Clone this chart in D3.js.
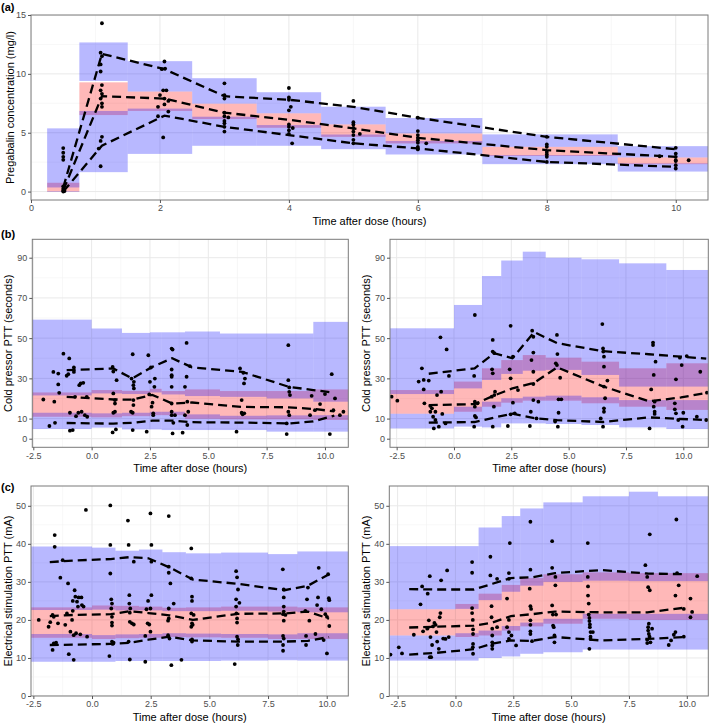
<!DOCTYPE html>
<html><head><meta charset="utf-8">
<script src="https://cdn.jsdelivr.net/npm/d3@7"></script>
<style>body{margin:0;background:#fff}svg{display:block}text{font-family:"Liberation Sans",Arial,Helvetica,sans-serif}</style>
</head><body><svg id="c" width="709" height="724"></svg>
<script>
// ---------- DATA ----------
// bands: [x0, x1, lo5Low, lo5High, medLow, medHigh, hi95Low, hi95High]
const a_bands = [
 [0.25,0.75, 0,0.05, 0,0.75, 0.35,5.37],
 [0.75,1.5, 1.65,6.85, 6.5,9.28, 9.4,12.67],
 [1.5,2.5, 3.2,7.05, 6.85,8.5, 8.5,11.08],
 [2.5,3.5, 3.89,6.36, 6.16,7.47, 7.47,9.63],
 [3.5,4.5, 3.89,5.65, 5.42,6.65, 6.65,8.44],
 [4.5,5.5, 3.6,4.85, 4.65,5.71, 5.71,7.21],
 [5.5,7.0, 3.15,4.3, 4.09,4.94, 4.94,6.25],
 [7.0,9.1, 2.33,3.1, 3.03,3.8, 3.8,4.86],
 [9.1,10.5, 1.7,2.4, 2.33,2.9, 2.9,3.86]
];
// observed percentiles: [x, p5, p50, p95]
const a_obs = [
 [0.5,0.0,0.1,0.35],[1.1,3.9,8.1,11.7],[2.07,6.45,7.9,10.4],[3.0,5.5,6.7,8.1],
 [4.0,4.8,6.1,7.8],[5.0,4.1,5.37,7.2],[6.0,3.67,4.57,6.27],[8.0,2.52,3.52,4.65],[10.0,2.1,2.95,3.6]
];
const a_pts = [
 [0.5,3.7],[0.5,3.3],[0.5,2.95],[0.5,2.7],[0.5,0.45],[0.5,0.25],[0.5,0.1],[0.5,0.0],[0.52,0.05],
 [1.1,14.3],[1.08,11.8],[1.1,11.5],[1.08,10.8],[1.08,10.2],[1.1,9.05],[1.08,8.6],[1.1,8.3],[1.08,7.9],[1.1,7.5],[1.1,7.2],[1.1,4.65],[1.08,4.3],[1.05,3.65],[1.08,2.15],
 [2.07,11.05],[2.03,10.4],[2.08,10.45],[2.05,8.6],[2.1,8.6],[2.0,8.2],[2.07,7.9],[2.13,7.7],[2.07,7.4],[1.97,7.2],[2.13,6.8],[1.97,6.4],[2.05,4.6],
 [3.0,9.2],[3.0,8.2],[3.0,7.9],[3.0,6.7],[3.0,6.4],[3.06,6.3],[3.0,6.0],[3.0,5.8],[3.0,5.5],[3.0,5.1],
 [4.0,8.8],[4.0,8.0],[4.0,7.8],[4.03,7.2],[4.0,6.9],[4.0,5.7],[4.0,5.5],[4.06,5.4],[4.0,5.2],[4.0,4.9],[4.05,4.1],
 [5.0,7.7],[5.0,5.9],[5.0,5.7],[5.0,5.4],[5.0,5.1],[5.1,4.9],[5.0,4.8],[5.0,4.4],[5.0,4.1],
 [6.0,6.27],[6.0,5.14],[6.0,4.8],[6.0,4.57],[6.0,4.37],[6.0,4.15],[6.13,4.1],[6.0,3.8],[6.0,3.58],
 [8.0,4.65],[8.0,4.0],[8.0,3.8],[8.0,3.37],[8.0,3.15],[8.0,2.95],[8.0,2.52],
 [10.0,3.72],[10.0,3.23],[10.0,2.95],[10.0,2.66],[10.0,2.6],[10.0,2.24],[10.0,1.96],[10.2,2.66],[9.75,3.0]
];

const bl_bands = [
 [-2.7,0, 4.8,12.9, 10.9,23.0, 21.5,59.2],
 [0,1.3, 5.5,12.6, 10.6,24.2, 22.5,54.8],
 [1.3,2.5, 4.6,12.9, 11.2,23.8, 22.2,52.6],
 [2.5,3.0, 4.6,13.4, 11.7,24.8, 23.0,52.9],
 [3.0,4.0, 4.3,13.4, 11.7,23.7, 22.0,52.9],
 [4.0,5.5, 4.3,12.1, 9.9,24.5, 21.2,53.3],
 [5.5,7.5, 4.3,11.4, 9.6,23.7, 20.8,52.3],
 [7.5,9.5, 3.5,11.6, 9.6,23.7, 20.0,52.3],
 [9.5,11.2, 3.5,11.7, 9.3,24.5, 18.4,58.1]
];
const bl_obs = [
 [-1.07,7.8,20.8,34.1],[0.93,7.5,19.5,34.9],[1.74,7.9,19.4,29.9],[2.6,9.0,21.8,35.7],[3.45,9.0,17.5,40.0],
 [4.3,8.2,18.0,35.5],[6.45,8.0,15.8,33.2],[8.45,7.6,15.6,25.8],[9.5,8.6,14.8,24.2],[10.4,11.5,13.6,22.8]
];
const bl_pts = [
 [-2.07,19.5],[-1.81,6.3],[-1.64,33.2],[-1.6,18.4],[-1.57,7.9],[-1.43,32.4],[-1.43,27.0],[-1.39,22.8],[-1.21,42.3],
 [-1.07,31.3],[-1.0,32.1],[-0.96,39.9],[-0.93,12.9],[-0.93,4.0],[-0.81,4.3],[-0.76,35.4],[-0.76,33.2],[-0.71,20.8],
 [-0.67,11.2],[-0.57,12.9],[-0.53,26.6],[-0.47,27.5],[-0.43,13.4],[-0.36,27.8],[-0.29,11.7],[-0.21,20.8],[-0.19,10.9],
 [0.9,35.7],[0.93,33.4],[0.93,22.5],[0.93,12.9],[0.9,3.1],[1.0,13.4],[1.04,4.6],[1.0,19.2],[1.07,29.1],[1.0,17.5],
 [1.71,29.9],[1.76,42.0],[1.76,4.3],[1.79,26.6],[1.69,13.4],[1.79,16.7],[1.76,12.9],[1.81,28.3],[1.79,19.2],[1.81,25.0],
 [2.36,3.5],[2.43,41.5],[2.47,22.0],[2.5,28.3],[2.54,35.4],[2.57,15.9],[2.61,17.9],[2.64,12.6],[2.64,11.7],[2.71,29.9],[2.69,25.8],
 [3.43,44.8],[3.47,44.3],[3.43,34.4],[3.43,31.6],[3.43,30.8],[3.43,25.8],[3.43,17.5],[3.43,13.4],[3.43,11.7],[3.47,2.6],[3.5,7.9],[3.57,11.7],
 [3.9,3.0],[4.0,25.8],[4.0,11.7],[4.07,47.6],[4.07,30.8],[4.1,18.4],[4.1,6.8],[4.14,13.4],[4.21,36.1],
 [6.21,3.5],[6.36,34.9],[6.43,19.2],[6.43,12.9],[6.47,12.1],[6.5,32.8],[6.53,27.5],[6.57,29.9],[6.54,12.6],
 [8.36,2.3],[8.43,46.5],[8.43,29.1],[8.47,25.5],[8.47,23.3],[8.5,21.7],[8.43,13.4],[8.47,11.7],[8.36,7.6],
 [9.43,21.3],[9.36,11.7],[9.57,14.2],[9.79,17.2],[10.0,22.2],[10.21,2.3],[10.29,32.1],[10.36,14.2],[10.43,20.0],[10.79,13.4],[10.64,11.7]
];

const br_bands = [
 [-2.9,0, 5.1,12.4, 12.4,24.2, 22.2,54.9],
 [0,1.22, 6.0,15.9, 13.4,28.4, 25.0,66.5],
 [1.22,2.06, 5.6,18.4, 15.9,35.0, 29.2,80.9],
 [2.06,3.0, 7.6,20.1, 17.9,39.1, 32.2,88.6],
 [3.0,4.0, 7.6,20.9, 18.9,41.6, 33.8,93.0],
 [4.0,5.56, 7.3,21.4, 18.9,40.3, 34.2,90.0],
 [5.56,7.2, 6.8,20.6, 17.6,38.3, 31.7,89.2],
 [7.2,9.26, 5.6,19.2, 15.9,35.0, 25.9,87.2],
 [9.26,11.2, 4.8,19.2, 14.3,37.5, 25.9,83.9]
];
const br_obs = [
 [-1.1,8.0,16.7,32.3],[0.9,8.3,17.2,35.0],[1.75,10.5,21.5,42.5],[2.55,12.5,25.0,40.0],[3.5,10.2,27.8,53.0],
 [4.5,9.2,35.5,47.5],[6.5,8.3,26.0,43.5],[8.5,10.6,18.6,42.0],[9.9,9.8,20.5,40.8],[11.0,9.3,22.8,39.8]
];
const br_pts = [
 [-2.72,20.9],[-2.47,18.9],[-1.54,28.4],[-1.4,35.0],[-1.32,29.2],[-1.29,17.6],[-1.32,24.5],[-1.1,28.9],[-1.03,16.3],
 [-1.03,13.4],[-0.96,15.1],[-0.91,10.9],[-0.88,5.1],[-0.81,13.4],[-0.81,9.3],[-0.74,21.7],[-0.66,6.0],[-0.59,50.4],
 [-0.56,23.4],[-0.51,12.3],[-0.37,7.6],[-0.32,44.4],[-0.22,31.2],
 [0.91,61.5],[0.88,31.2],[0.91,18.4],[0.91,15.9],[0.91,11.3],[0.88,6.0],[0.96,10.6],[1.03,17.6],
 [1.69,49.1],[1.66,34.5],[1.69,32.5],[1.69,43.3],[1.76,42.5],[1.69,6.0],[1.74,15.9],[1.76,21.7],[1.79,23.4],[1.65,20.9],
 [2.35,6.3],[2.47,56.1],[2.43,34.5],[2.47,30.0],[2.47,12.1],[2.57,17.9],[2.57,40.8],[2.65,12.6],[2.79,24.2],
 [3.31,6.3],[3.35,13.4],[3.38,39.1],[3.41,53.7],[3.46,50.7],[3.46,42.8],[3.46,33.3],[3.46,27.2],[3.46,19.2],[3.68,18.4],[3.6,10.1],
 [4.44,37.5],[4.49,36.6],[4.53,6.0],[4.56,12.9],[4.56,19.6],[4.49,51.6],[4.51,42.1],[4.63,30.3],[4.68,19.6],[4.41,8.5],
 [6.47,57.0],[6.5,44.9],[6.51,43.3],[6.54,40.8],[6.54,35.8],[6.54,25.9],[6.59,20.1],[6.54,15.1],[6.54,13.4],[6.5,6.0],[6.69,28.9],[6.4,10.1],
 [8.53,5.1],[8.6,24.5],[8.68,47.8],[8.68,46.6],[8.71,31.7],[8.75,18.4],[8.71,15.9],[8.75,13.4],[8.75,12.3],[8.79,38.3],
 [9.63,17.6],[9.63,14.6],[9.68,12.6],[9.68,29.5],[9.78,9.3],[9.85,40.3],[9.93,36.6],[9.97,6.0],[10.0,12.9],[10.15,41.1],
 [10.59,10.9],[10.74,33.3],[11.0,9.3],[11.03,22.9]
];

const cl_bands = [
 [-2.7,0, 9.0,16.3, 15.3,23.3, 22.6,39.3],
 [0,1.0, 9.0,16.0, 15.0,23.8, 22.7,39.0],
 [1.0,2.0, 9.2,16.2, 15.2,23.7, 22.5,38.2],
 [2.0,3.0, 9.2,16.3, 15.3,23.5, 22.5,38.5],
 [3.0,4.0, 9.2,16.5, 15.5,23.2, 22.3,37.8],
 [4.0,5.5, 9.2,16.4, 15.4,23.3, 22.3,37.5],
 [5.5,7.5, 9.3,16.3, 15.3,23.5, 22.4,37.7],
 [7.5,8.75, 9.4,16.2, 15.0,23.5, 22.2,37.3],
 [8.75,11, 9.3,16.5, 15.0,23.3, 22.0,38.0]
];
const cl_obs = [
 [-1.8,13.4,21.0,35.2],[-0.8,13.5,21.3,35.6],[0.8,13.7,21.5,36.0],[1.6,14.0,22.3,36.5],[2.4,14.8,21.8,36.2],
 [3.3,15.6,21.2,33.8],[4.3,14.6,20.0,30.6],[6.2,14.3,21.6,29.5],[8.2,14.3,21.7,27.8],[9.2,14.5,22.2,29.0],[10.1,15.5,20.3,32.0]
];
const cl_pts = [
 [-2.27,20.0],[-1.85,18.2],[-1.78,19.4],[-1.68,21.3],[-1.63,20.8],[-1.59,42.3],[-1.59,39.2],[-1.68,12.1],[-1.63,13.8],
 [-1.53,14.0],[-1.45,19.1],[-1.35,31.1],[-1.25,35.7],[-1.14,18.7],[-1.07,21.7],[-1.02,29.6],[-0.99,11.0],[-0.92,16.9],
 [-0.85,20.0],[-0.82,25.0],[-0.82,22.4],[-0.78,16.0],[-0.78,9.5],[-0.74,27.8],[-0.71,26.1],[-0.68,16.5],[-0.64,24.8],
 [-0.6,23.5],[-0.57,25.9],[-0.5,16.2],[-0.45,25.9],[-0.43,23.9],[-0.36,23.5],[-0.26,48.9],[-0.21,15.6],
 [0.78,50.1],[0.78,39.7],[0.78,32.2],[0.74,10.5],[0.82,25.4],[0.85,24.3],[0.82,23.0],[0.85,20.8],[0.85,19.3],[0.85,18.5],[0.88,13.7],[0.92,14.0],[0.85,14.3],
 [1.53,46.1],[1.56,39.7],[1.59,26.5],[1.59,24.3],[1.61,21.9],[1.61,19.5],[1.56,14.3],[1.61,9.6],[1.63,23.0],[1.7,19.1],[1.78,35.3],[1.78,18.8],
 [2.27,9.0],[2.27,15.8],[2.32,22.8],[2.37,19.1],[2.39,25.0],[2.44,18.8],[2.49,48.0],[2.49,23.0],[2.53,39.7],[2.53,35.3],[2.53,26.5],[2.49,16.9],
 [3.27,47.3],[3.27,34.0],[3.27,32.4],[3.27,23.0],[3.27,20.4],[3.24,19.8],[3.24,16.0],[3.3,15.1],[3.34,29.6],[3.38,8.1],[3.48,24.3],
 [3.81,9.5],[4.23,38.8],[4.23,30.9],[4.26,26.1],[4.26,25.0],[4.23,21.7],[4.26,19.1],[4.23,18.2],[4.29,18.7],[4.26,14.9],[4.26,14.3],[4.33,21.3],
 [6.08,8.4],[6.14,32.8],[6.18,31.2],[6.14,25.4],[6.14,23.5],[6.15,21.7],[6.18,20.4],[6.18,19.3],[6.22,28.0],[6.18,15.6],[6.22,14.9],[6.21,13.4],[6.28,24.5],
 [8.13,33.3],[8.17,28.0],[8.17,25.9],[8.17,23.5],[8.17,22.2],[8.14,21.5],[8.17,19.8],[8.14,15.8],[8.17,15.1],[8.14,13.4],[8.14,11.9],[8.24,21.3],
 [9.09,22.4],[9.12,15.8],[9.12,13.4],[9.16,25.4],[9.2,28.5],[9.26,19.8],[9.52,16.3],[9.59,23.9],[9.63,25.9],[9.66,33.7],
 [9.77,22.8],[9.87,14.7],[9.94,21.5],[10.01,20.8],[10.01,11.2],[10.06,32.0],[10.09,25.7],[10.11,25.2],[10.11,18.4]
];

const cr_bands = [
 [-2.9,0, 9.3,15.9, 15.9,22.8, 22.8,39.4],
 [0,1.0, 9.3,16.5, 15.5,24.2, 22.9,39.4],
 [1.0,2.0, 10.0,17.2, 15.9,26.9, 25.2,44.3],
 [2.0,2.8, 10.4,18.4, 17.2,29.2, 27.4,47.3],
 [2.8,3.8, 11.1,19.3, 18.3,31.0, 29.0,49.3],
 [3.8,5.5, 11.5,20.3, 19.0,32.0, 30.0,50.9],
 [5.5,7.5, 12.2,21.6, 20.3,32.5, 30.3,52.5],
 [7.5,8.75, 12.2,21.6, 20.0,32.3, 30.2,53.7],
 [8.75,11, 12.2,21.6, 20.0,32.3, 30.2,52.5]
];
const cr_obs = [
 [-2.0,10.9,18.0,28.1],[-0.9,11.3,18.2,28.0],[0.8,12.3,18.5,28.0],[1.6,13.8,19.3,29.5],[2.4,14.6,21.0,31.0],
 [3.3,14.5,21.5,31.2],[4.3,15.5,22.2,32.3],[6.3,14.6,22.0,33.1],[8.3,15.0,22.0,32.2],[9.9,15.5,23.2,32.0]
];
const cr_pts = [
 [-2.81,10.9],[-2.45,12.8],[-2.31,11.2],[-1.8,16.1],[-1.51,24.1],[-1.44,28.8],[-1.4,17.0],[-1.22,17.7],[-1.2,17.9],
 [-1.15,19.9],[-1.11,31.5],[-1.2,26.9],[-1.11,10.2],[-1.05,10.2],[-1.08,15.5],[-1.01,13.4],[-0.97,18.3],[-0.91,19.2],
 [-0.86,18.7],[-0.82,16.8],[-0.79,14.3],[-0.72,12.4],[-0.68,20.7],[-0.65,21.8],[-0.62,30.4],[-0.53,15.1],[-0.43,15.0],
 [-0.36,33.0],[-0.29,15.5],
 [0.72,35.2],[0.72,32.4],[0.72,23.1],[0.72,21.8],[0.75,20.0],[0.76,17.5],[0.76,16.3],[0.76,13.7],[0.76,11.1],[0.75,12.8],
 [1.51,36.6],[1.51,31.7],[1.56,23.6],[1.56,20.7],[1.59,17.7],[1.59,15.9],[1.59,14.1],[1.59,12.4],[1.59,13.3],[1.8,30.8],[1.8,18.1],
 [2.23,25.6],[2.35,40.2],[2.31,32.3],[2.31,30.8],[2.31,20.0],[2.31,16.8],[2.31,15.0],[2.23,18.1],[2.42,15.9],[2.62,13.3],
 [3.24,45.8],[3.24,33.2],[3.21,28.2],[3.24,23.6],[3.27,22.9],[3.24,19.9],[3.24,18.7],[3.24,17.0],[3.24,16.3],[3.31,14.4],
 [4.18,40.7],[4.18,33.7],[4.18,23.8],[4.21,21.4],[4.22,18.5],[4.25,18.1],[4.28,14.1],[4.32,29.1],[4.35,21.4],[4.32,31.3],[4.28,15.9],
 [5.72,40.2],[5.72,31.3],[5.73,28.8],[5.73,26.4],[5.76,24.3],[5.76,21.4],[5.79,20.5],[5.79,19.7],[5.81,18.8],[5.81,18.1],
 [5.84,16.8],[5.84,15.6],[5.84,15.0],[5.79,12.4],[5.94,16.8],
 [8.29,14.8],[8.29,13.9],[8.33,18.1],[8.33,17.2],[8.36,19.0],[8.36,16.3],[8.39,15.6],[8.43,14.1],[8.4,42.5],[8.21,34.4],
 [8.29,31.3],[8.33,28.6],[8.4,27.8],[8.5,17.7],
 [9.22,13.4],[9.32,14.6],[9.44,16.1],[9.51,16.8],[9.51,26.4],[9.55,46.4],[9.58,32.3],[9.65,29.1],[9.87,15.6],[9.87,22.9],
 [10.16,25.6],[10.16,20.7],[10.23,22.1],[10.45,31.5]
];

const xTitle = "Time after dose (hours)";
const a_yTitle = "Pregabalin concentration (mg/l)";
const b_yTitle = "Cold pressor PTT (seconds)";
const c_yTitle = "Electrical stimulation PTT (mA)";
const a_xTicks = [0,2,4,6,8,10], a_yTicks = [0,5,10,15];
const bc_xTicks = [-2.5,0,2.5,5,7.5,10];
const b_yTicks = [0,10,30,50,70,90];
const c_yTicks = [0,10,20,30,40,50];

// ---------- DRAW ----------
const svg = d3.select("#c");
const FONT = '"Liberation Sans",Arial,Helvetica,sans-serif';
let clipN = 0;

function minorOf(ticks){ const m=[]; for(let i=0;i<ticks.length-1;i++) m.push((ticks[i]+ticks[i+1])/2); return m; }

function panel(o){
  const x = d3.scaleLinear().domain(o.xd).range([o.l, o.r]);
  const y = d3.scaleLinear().domain(o.yd).range([o.b, o.t]);
  const id = "clip" + (clipN++);
  svg.append("clipPath").attr("id", id).append("rect")
     .attr("x", o.l).attr("y", o.t).attr("width", o.r - o.l).attr("height", o.b - o.t);
  const g = svg.append("g").attr("clip-path", `url(#${id})`);
  // grid
  const xm = minorOf(o.xt), ym = minorOf(o.yt);
  g.selectAll(".gxm").data(xm).join("line").attr("x1", d=>x(d)).attr("x2", d=>x(d)).attr("y1", o.t).attr("y2", o.b)
    .attr("stroke", "#f2f2f2").attr("stroke-width", 0.6);
  g.selectAll(".gym").data(ym).join("line").attr("y1", d=>y(d)).attr("y2", d=>y(d)).attr("x1", o.l).attr("x2", o.r)
    .attr("stroke", "#f2f2f2").attr("stroke-width", 0.6);
  g.selectAll(".gx").data(o.xt).join("line").attr("x1", d=>x(d)).attr("x2", d=>x(d)).attr("y1", o.t).attr("y2", o.b)
    .attr("stroke", "#e9e9e9").attr("stroke-width", 1);
  g.selectAll(".gy").data(o.yt).join("line").attr("y1", d=>y(d)).attr("y2", d=>y(d)).attr("x1", o.l).attr("x2", o.r)
    .attr("stroke", "#e9e9e9").attr("stroke-width", 1);
  // median CI (pink) first
  g.selectAll(".med").data(o.bands).join("rect")
    .attr("x", d=>x(d[0])).attr("width", d=>x(d[1]) - x(d[0]))
    .attr("y", d=>y(d[5])).attr("height", d=>y(d[4]) - y(d[5]))
    .attr("fill", "rgb(255,0,0)").attr("fill-opacity", 0.28);
  // 5th & 95th CI (blue) on top
  g.selectAll(".lo").data(o.bands).join("rect")
    .attr("x", d=>x(d[0])).attr("width", d=>x(d[1]) - x(d[0]))
    .attr("y", d=>y(d[3])).attr("height", d=>y(d[2]) - y(d[3]))
    .attr("fill", "rgb(0,0,255)").attr("fill-opacity", 0.28);
  g.selectAll(".hi").data(o.bands).join("rect")
    .attr("x", d=>x(d[0])).attr("width", d=>x(d[1]) - x(d[0]))
    .attr("y", d=>y(d[7])).attr("height", d=>y(d[6]) - y(d[7]))
    .attr("fill", "rgb(0,0,255)").attr("fill-opacity", 0.28);
  // points
  g.selectAll(".pt").data(o.pts).join("circle")
    .attr("cx", d=>x(d[0])).attr("cy", d=>y(d[1])).attr("r", 1.9).attr("fill", "#000");
  // observed percentile lines
  [1,2,3].forEach(k=>{
    const line = d3.line().x(d=>x(d[0])).y(d=>y(d[k]));
    g.append("path").datum(o.obs).attr("d", line).attr("fill", "none")
     .attr("stroke", "#000").attr("stroke-width", 2.3).attr("stroke-dasharray", "9,5");
  });
  // border
  svg.append("rect").attr("x", o.l).attr("y", o.t).attr("width", o.r - o.l).attr("height", o.b - o.t)
    .attr("fill", "none").attr("stroke", "#7a7a7a").attr("stroke-width", 1);
  // axes
  const ax = svg.append("g").attr("transform", `translate(0,${o.b})`)
    .call(d3.axisBottom(x).tickValues(o.xt).tickSize(3).tickPadding(2).tickFormat(o.xf));
  const ay = svg.append("g").attr("transform", `translate(${o.l},0)`)
    .call(d3.axisLeft(y).tickValues(o.yt).tickSize(3).tickPadding(2).tickFormat(d=>String(d)));
  [ax, ay].forEach(a=>{
    a.select(".domain").remove();
    a.selectAll("line").attr("stroke", "#555");
    a.selectAll("text").attr("fill", "#4d4d4d").style("font-size", "9px").style("font-family", FONT);
  });
  // titles
  svg.append("text").attr("x", (o.l + o.r)/2).attr("y", o.xty).attr("text-anchor", "middle")
    .style("font-size", "11px").attr("fill", "#000").text(xTitle);
  svg.append("text").attr("transform", `translate(${o.ytx},${(o.t + o.b)/2}) rotate(-90)`)
    .attr("text-anchor", "middle").attr("dominant-baseline", "central")
    .style("font-size", "11px").attr("fill", "#000").text(o.ytitle);
  if (o.tag) svg.append("text").attr("x", 1).attr("y", o.tagy).style("font-size", "11px")
    .style("font-weight", "bold").attr("fill", "#000").text(o.tag);
}

const f1 = d => d.toFixed(1);
panel({l:31, r:708, t:15, b:200, xd:[0,10.5], yd:[-0.715,15.0], xt:a_xTicks, yt:a_yTicks, xf:d=>String(d),
  bands:a_bands, obs:a_obs, pts:a_pts, ytitle:a_yTitle, xty:225, ytx:10, tag:"(a)", tagy:11});
panel({l:32.3, r:348.3, t:239.3, b:447.3, xd:[-2.543,11.0], yd:[-4.28,99.15], xt:bc_xTicks, yt:b_yTicks, xf:f1,
  bands:bl_bands, obs:bl_obs, pts:bl_pts, ytitle:b_yTitle, xty:472, ytx:8, tag:"(b)", tagy:238});
panel({l:390, r:708.3, t:239.3, b:447.3, xd:[-2.79,11.09], yd:[-4.28,99.15], xt:bc_xTicks, yt:b_yTicks, xf:f1,
  bands:br_bands, obs:br_obs, pts:br_pts, ytitle:b_yTitle, xty:472, ytx:366});
panel({l:31, r:348.3, t:486, b:696, xd:[-2.6,10.92], yd:[0,55.2], xt:bc_xTicks, yt:c_yTicks, xf:f1,
  bands:cl_bands, obs:cl_obs, pts:cl_pts, ytitle:c_yTitle, xty:721, ytx:8, tag:"(c)", tagy:491});
panel({l:389.3, r:708.3, t:486, b:696, xd:[-2.86,10.93], yd:[0,55.2], xt:bc_xTicks, yt:c_yTicks, xf:f1,
  bands:cr_bands, obs:cr_obs, pts:cr_pts, ytitle:c_yTitle, xty:721, ytx:366});
</script></body></html>
